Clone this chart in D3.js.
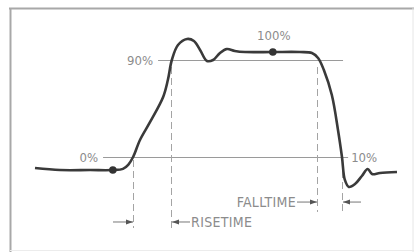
<!DOCTYPE html>
<html>
<head>
<meta charset="utf-8">
<script src="https://cdn.jsdelivr.net/npm/d3@7"></script>
<style>
  body { margin: 0; background: #fff; }
  svg text { font-family: "Liberation Sans Narrow", "DejaVu Sans Condensed", sans-serif; fill: #8c8c8c; }
</style>
</head>
<body>
<svg id="chart" width="414" height="252"></svg>
<script>
// Waveform samples: time (arbitrary units) and level (percent of pulse height)
var waveTime  = [0, 6.9, 15.2, 21.5, 24.3, 25.8, 27.1, 29.0, 31.8, 35.4, 36.7, 37.8, 39.5, 42.0, 43.9, 45.6, 47.5, 49.2, 51.1, 53.0, 55.2, 58.0, 65.7, 73.2, 76.5, 78.2, 79.8, 82.0, 83.7, 84.8, 85.6, 86.7, 88.4, 90.3, 91.9, 93.1, 95.3, 100];
var waveLevel = [-10.2, -12.1, -12.1, -12.1, -11.0, -7.0, 0, 15.8, 32.5, 55.7, 71.4, 90, 103.9, 109.5, 107.6, 99.3, 89.1, 90, 96.5, 100.2, 98.4, 97.4, 97.4, 97.4, 96.5, 91.9, 80.7, 57.5, 25.1, 0, -21.3, -27.8, -25.1, -17.6, -11.1, -15.8, -14.8, -13.9];

// Marked points on the trace
var dotTime  = [21.5, 65.7];
var dotLevel = [-12.1, 97.4];

// Reference levels
var refLevels = [0, 90];
var refStart  = [18.8, 34.0];
var refEnd    = [86.5, 85.1];

// Dashed crossing markers
var crossTime   = [27.1, 37.6, 77.9, 84.8];
var crossTop    = [-2.8, 83.5, 83.5, -2.8];
var crossBottom = [-65.9, -65.9, -51, -51];

// Labels
var levelLabels = ["0%", "90%", "100%", "10%"];
var riseLabel = "RISETIME";
var fallLabel = "FALLTIME";

var svg = d3.select("#chart");
var W = 414, H = 252;

var xScale = d3.scaleLinear().domain([0, 100]).range([35, 397]);
var yScale = d3.scaleLinear().domain([0, 90]).range([157, 60]);

// Frame
svg.append("line").attr("x1", 9).attr("x2", W).attr("y1", 8.5).attr("y2", 8.5)
   .style("stroke", "#a8a8a8").style("stroke-width", 2);
svg.append("line").attr("x1", 10.5).attr("x2", 10.5).attr("y1", 8).attr("y2", H)
   .style("stroke", "#a8a8a8").style("stroke-width", 2);
svg.append("line").attr("x1", 413).attr("x2", 413).attr("y1", 8).attr("y2", H)
   .style("stroke", "#e6e6e6").style("stroke-width", 1);
svg.append("line").attr("x1", 10).attr("x2", W).attr("y1", 250.5).attr("y2", 250.5)
   .style("stroke", "#ececec").style("stroke-width", 1);

// Reference lines
svg.selectAll(".refLine")
   .data(refLevels)
   .enter()
   .append("line")
   .attr("class", "refLine")
   .attr("x1", function(d, i) { return xScale(refStart[i]); })
   .attr("x2", function(d, i) { return xScale(refEnd[i]); })
   .attr("y1", function(d) { return yScale(d) + 0.5; })
   .attr("y2", function(d) { return yScale(d) + 0.5; })
   .style("stroke", "#9a9a9a")
   .style("stroke-width", 1);

// Dashed verticals
svg.selectAll(".crossLine")
   .data(crossTime)
   .enter()
   .append("line")
   .attr("class", "crossLine")
   .attr("x1", function(d) { return Math.round(xScale(d)) + 0.5; })
   .attr("x2", function(d) { return Math.round(xScale(d)) + 0.5; })
   .attr("y1", function(d, i) { return yScale(crossTop[i]); })
   .attr("y2", function(d, i) { return yScale(crossBottom[i]); })
   .style("stroke", "#a4a4a4")
   .style("stroke-width", 1)
   .style("stroke-dasharray", "7,4");

// Waveform
var wave = waveTime.map(function(t, i) { return [t, waveLevel[i]]; });
var line = d3.line()
             .x(function(d) { return xScale(d[0]); })
             .y(function(d) { return yScale(d[1]); })
             .curve(d3.curveCatmullRom.alpha(0.5));
svg.append("path")
   .datum(wave)
   .attr("d", line)
   .style("fill", "none")
   .style("stroke", "#3a3a3a")
   .style("stroke-width", 2.6)
   .style("stroke-linejoin", "round");

svg.selectAll(".waveDot")
   .data(dotTime)
   .enter()
   .append("circle")
   .attr("class", "waveDot")
   .attr("cx", function(d) { return xScale(d); })
   .attr("cy", function(d, i) { return yScale(dotLevel[i]); })
   .attr("r", 3.8)
   .style("fill", "#333");

// Level labels
var labelPos = [
  { x: xScale(refStart[0]) - 5, y: yScale(0), anchor: "end" },
  { x: xScale(refStart[1]) - 5, y: yScale(90), anchor: "end" },
  { x: xScale(dotTime[1]) + 1, y: yScale(113), anchor: "middle" },
  { x: xScale(refEnd[0]) + 3, y: yScale(0), anchor: "start" }
];
svg.selectAll(".levelText")
   .data(levelLabels)
   .enter()
   .append("text")
   .attr("class", "levelText")
   .attr("x", function(d, i) { return labelPos[i].x; })
   .attr("y", function(d, i) { return labelPos[i].y; })
   .attr("dy", "0.36em")
   .attr("text-anchor", function(d, i) { return labelPos[i].anchor; })
   .style("font-size", "13px")
   .text(function(d) { return d; });

// Arrows
var arrowColor = "#555";
var drawArrow = function(tipX, y, len, dir) {
  // dir = 1 points right, -1 points left
  svg.append("line")
     .attr("x1", tipX - dir * len).attr("x2", tipX)
     .attr("y1", y).attr("y2", y)
     .style("stroke", "#777").style("stroke-width", 1);
  svg.append("path")
     .attr("d", "M" + tipX + "," + y + "L" + (tipX - dir * 7) + "," + (y - 2.5) + "L" + (tipX - dir * 7) + "," + (y + 2.5) + "Z")
     .style("fill", arrowColor);
};

var riseY = yScale(-60.3), fallY = yScale(-41.8);
drawArrow(Math.round(xScale(crossTime[0])), riseY, 20, 1);
drawArrow(Math.round(xScale(crossTime[1])) + 1, riseY, 18, -1);
drawArrow(Math.round(xScale(crossTime[2])), fallY, 20, 1);
drawArrow(Math.round(xScale(crossTime[3])) + 1, fallY, 18, -1);

svg.append("text")
   .attr("x", xScale(crossTime[1]) + 20)
   .attr("y", riseY)
   .attr("dy", "0.36em")
   .style("font-size", "14px")
   .style("letter-spacing", "0.3px")
   .text(riseLabel);
svg.append("text")
   .attr("x", xScale(crossTime[2]) - 21)
   .attr("y", fallY)
   .attr("dy", "0.36em")
   .attr("text-anchor", "end")
   .style("font-size", "14px")
   .style("letter-spacing", "0.3px")
   .text(fallLabel);
</script>
</body>
</html>
